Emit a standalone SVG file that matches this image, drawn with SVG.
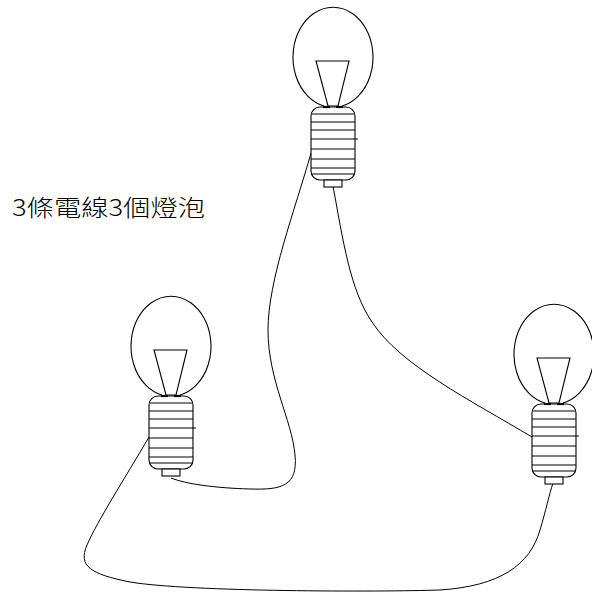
<svg xmlns="http://www.w3.org/2000/svg" xmlns:xlink="http://www.w3.org/1999/xlink" width="592" height="592" viewBox="0 0 592 592">
  <style>
    .ln { fill: none; stroke: #000; stroke-width: 1.1; }
    .solid { fill: #fff; stroke: #000; stroke-width: 1.1; }
    .contact { stroke: #000; stroke-width: 2.2; }
    .wire { fill: none; stroke: #000; stroke-width: 1; }
    .label { font-family: "Noto Sans CJK TC", "Noto Sans CJK SC", sans-serif; font-size: 23px; font-weight: 300; fill: #000; }
  </style>
  <defs>
    <!-- Light bulb, origin at the top of the glass -->
    <g id="bulb">
      <path class="ln" d="M-9,99 A40,50 0 1 1 9,99"/>
      <polygon class="ln" points="-17,54 16,54 5,99 -5,99"/>
      <rect class="solid" x="-22" y="100" width="44" height="73" rx="9" ry="9"/>
      <line class="contact" x1="-10" y1="100" x2="-3" y2="100"/>
      <line class="contact" x1="3" y1="100" x2="10" y2="100"/>
      <g class="ln">
        <line x1="-21" y1="107" x2="21" y2="107"/>
        <line x1="-22" y1="115" x2="22" y2="115"/>
        <line x1="-22" y1="123" x2="22" y2="123"/>
        <line x1="-22" y1="132" x2="25" y2="132"/>
        <line x1="-22" y1="142" x2="22" y2="142"/>
        <line x1="-22" y1="152" x2="22" y2="152"/>
        <line x1="-22" y1="161" x2="22" y2="161"/>
        <line x1="-21" y1="167" x2="21" y2="167"/>
      </g>
      <rect class="solid" x="-9" y="173" width="18" height="7"/>
    </g>
  </defs>

  <rect width="592" height="592" fill="#fff"/>

  <g id="wires">
    <path class="wire" d="M311,153 C295,210 268,280 268,330 C268,380 292,420 295,455 C298,486 282,490 250,489 C215,488 186,484 171,478"/>
    <path class="wire" d="M333,186 C343,240 350,290 372,322 C400,365 470,400 532,437"/>
    <path class="wire" d="M149,437 C125,478 98,520 87,545 C78,566 90,574 130,582 C190,592 380,592 440,590 C500,586 530,565 540,530 C546,510 549,495 553,483"/>
  </g>

  <g id="bulb-top"><use xlink:href="#bulb" href="#bulb" transform="translate(333,7)"/></g>
  <g id="bulb-left"><use xlink:href="#bulb" href="#bulb" transform="translate(171,296)"/></g>
  <g id="bulb-right"><use xlink:href="#bulb" href="#bulb" transform="translate(554,304)"/></g>

  <g id="title">
    <text class="label" x="12" y="216" textLength="193" lengthAdjust="spacingAndGlyphs">3條電線3個燈泡</text>
  </g>
</svg>
